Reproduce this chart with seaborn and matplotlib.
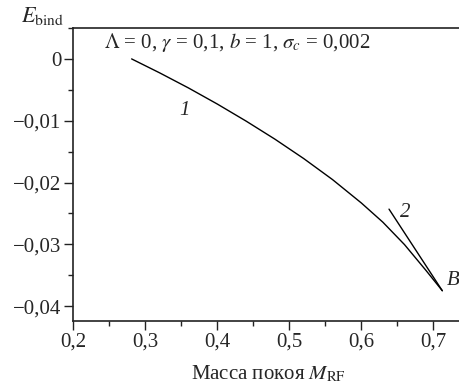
import matplotlib
matplotlib.use('Agg')
import matplotlib.pyplot as plt
import numpy as np
import pandas as pd
import seaborn as sns
from matplotlib.ticker import MultipleLocator

# curve 1: binding energy vs rest mass
m_1 = [0.281, 0.32, 0.36, 0.40, 0.44, 0.48, 0.52, 0.56, 0.60, 0.63, 0.66, 0.69, 0.7125]
e_1 = [0.0, -0.00226, -0.00470, -0.00730, -0.01006, -0.01298, -0.01612,
       -0.01952, -0.02330, -0.02642, -0.03004, -0.03424, -0.03750]
# line 2
m_2 = [0.6385, 0.7125]
e_2 = [-0.0243, -0.0375]

xticks = [0.2, 0.3, 0.4, 0.5, 0.6, 0.7]
xticklabels = ['0,2', '0,3', '0,4', '0,5', '0,6', '0,7']
yticks = [0.0, -0.01, -0.02, -0.03, -0.04]
yticklabels = ['0', '\u22120,01', '\u22120,02', '\u22120,03', '\u22120,04']

sns.set_style('ticks')
plt.rcParams['font.family'] = ['Liberation Serif', 'DejaVu Serif']
plt.rcParams['mathtext.fontset'] = 'stix'

df1 = pd.DataFrame({'M': m_1, 'E': e_1})
df2 = pd.DataFrame({'M': m_2, 'E': e_2})

fig = plt.figure(figsize=(4.59, 3.89), dpi=100)
ax = fig.add_axes([0.1597, 0.1748, 0.8403, 0.7532])

sns.lineplot(data=df1, x='M', y='E', ax=ax, color='black', lw=1.0, sort=False)
sns.lineplot(data=df2, x='M', y='E', ax=ax, color='black', lw=1.0, sort=False)

ax.set_xlim(0.2, 0.7357)
ax.set_ylim(-0.0424, 0.005)
ax.set_xticks(xticks)
ax.set_xticklabels(xticklabels)
ax.set_yticks(yticks)
ax.set_yticklabels(yticklabels)
ax.xaxis.set_minor_locator(MultipleLocator(0.05))
ax.yaxis.set_minor_locator(MultipleLocator(0.005))
ax.tick_params(which='major', length=6.5, width=1.0, labelsize=15, color='#222222', pad=2)
ax.tick_params(which='minor', length=3.5, width=1.0, color='#222222')
ax.spines['right'].set_visible(False)
for s in ['left', 'bottom', 'top']:
    ax.spines[s].set_linewidth(1.2)
    ax.spines[s].set_color('#222222')
ax.set_xlabel('')
ax.set_ylabel('')

ax.text(0.243, 0.0026, r'$\Lambda$ = 0, $\gamma$ = 0,1, $b$ = 1, $\sigma_c$ = 0,002',
        fontsize=15, va='center', ha='left')
ax.text(0.355, -0.0083, '1', fontsize=15, style='italic', ha='center', va='center')
ax.text(0.661, -0.0249, '2', fontsize=15, style='italic', ha='center', va='center')
ax.text(0.728, -0.0358, 'B', fontsize=15, style='italic', ha='center', va='center')

fig.text(43 / 459, 1 - 16 / 389, r'$E_{\rm bind}$', fontsize=16, ha='center', va='center')
fig.text(268 / 459, 1 - 374 / 389, r'Масса покоя $M_{\rm RF}$', fontsize=15, ha='center', va='center')

fig.savefig('out.png', dpi=100)
